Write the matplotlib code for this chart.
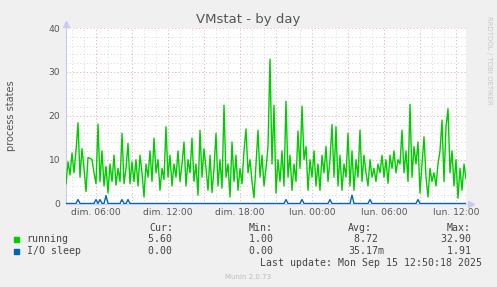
import numpy as np
import matplotlib
matplotlib.use('Agg')
import matplotlib.pyplot as plt

# hours since Sunday 00:00, one sample every 10 minutes, last one at Mon 12:50
t_end = 36 + 50 / 60
step_h = 1 / 6

running = [
    4.5, 9.5, 6.5, 11.5, 7, 12, 18.4, 6, 12.5, 8,
    2.7, 10.5, 10.3, 10, 7, 4.5, 18.1, 5, 12, 4,
    8.5, 2.4, 9, 5, 11, 4.2, 8, 5, 16, 4.5,
    8, 13.7, 4.5, 9.5, 5, 10, 4, 11, 7, 1.5,
    9, 6, 12, 5, 14.9, 7, 10, 3, 8, 5.5,
    17.5, 6, 11, 4, 9, 6, 12, 5, 9, 14,
    4, 10, 7, 14.9, 5, 9, 1.9, 16.7, 6, 12.5,
    8, 3, 11, 2.5, 8, 16, 4, 10, 3.5, 22.4,
    6, 9, 1.5, 14, 5, 11, 3, 8, 4.5, 12,
    17, 7, 10, 5, 1.3, 9, 16.7, 6, 11, 4,
    8, 13, 32.9, 9, 22.4, 2.4, 10, 5, 12, 4,
    23.3, 6, 11, 3, 9, 5, 16.5, 8, 22.2, 10,
    13, 3, 10, 6, 12, 4, 9, 3, 11, 7,
    13, 5, 10, 18, 6, 17.5, 4, 11, 3, 9,
    6, 16, 4, 12, 3, 10, 6, 16.7, 5, 11,
    7, 4, 10, 6, 8, 5, 9, 7, 11, 6,
    10, 4.6, 11, 8, 12, 7, 10, 9, 16.7, 7,
    12, 5, 22.6, 6, 13, 9, 14, 2.4, 9, 15.2,
    6, 1.5, 8, 5, 7, 4, 9, 12, 19, 5,
    17.5, 21.6, 7, 12, 4, 10, 1.2, 8, 3, 9, 5.6,
]

# I/O sleep is zero except a few short blips
io_sample = [6, 15, 17, 20, 28, 31, 110, 118, 132, 143, 152, 176]
io_peak = [0.9, 0.9, 0.9, 1.8, 0.9, 0.9, 0.9, 0.9, 0.9, 1.91, 0.9, 0.9]

legend_rows = [
    ('running', '#00cc00', '5.60', '1.00', '8.72', '32.90'),
    ('I/O sleep', '#0066b3', '0.00', '0.00', '35.17m', '1.91'),
]

n = len(running)
hours = t_end - step_h * np.arange(n - 1, -1, -1)
io_sleep = np.zeros(n)
io_sleep[io_sample] = io_peak

W, H = 497, 287
fig = plt.figure(figsize=(W / 100, H / 100), dpi=100, facecolor='#f0f0f0')
ax = fig.add_axes([66 / W, 1 - 203.5 / H, 400 / W, 175.5 / H])
ax.set_facecolor('white')

ax.set_xlim(t_end - 400 / 12, t_end)
ax.set_ylim(0, 40)

# grid: light grey minor, pinkish major
dots = (0, (1, 2.5))
for h in np.arange(4, 37, 1):
    ax.axvline(h, color='#d8d8d8', lw=0.7, ls=dots, zorder=0)
for v in np.arange(2, 40, 2):
    ax.axhline(v, color='#d8d8d8', lw=0.7, ls=dots, zorder=0)
for h in np.arange(6, 37, 3):
    ax.axvline(h, color='#ebb4b4', lw=0.7, ls=dots, zorder=0)
for v in [10, 20, 30, 40]:
    ax.axhline(v, color='#ebb4b4', lw=0.7, ls=dots, zorder=0)

ax.plot(hours, running, color='#00cc00', lw=1.0, zorder=3)
ax.plot(hours, io_sleep, color='#0066b3', lw=1.0, zorder=4)

xt = np.arange(6, 37, 6)
ax.set_xticks(xt)
ax.set_xticklabels([('dim. ' if h < 24 else 'lun. ') + '%02d:00' % (h % 24) for h in xt])
ax.set_yticks([0, 10, 20, 30, 40])
ax.tick_params(length=0, labelsize=6.6, colors='#555555')
ax.tick_params(axis='x', pad=3)
ax.tick_params(axis='y', pad=4)

for s in ['top', 'right']:
    ax.spines[s].set_visible(False)
ax.spines['left'].set_color('#c8ccf4')
ax.spines['bottom'].set_color('#c8ccf4')
ax.plot([0], [1.02], marker='^', color='#c8ccf4', ms=4, transform=ax.transAxes, clip_on=False)
ax.plot([1.012], [0], marker='>', color='#c8ccf4', ms=4, transform=ax.transAxes, clip_on=False)

fig.text(0.5, 1 - 19.5 / H, 'VMstat - by day', ha='center', va='center', fontsize=9.5, color='#555555')
fig.text(11 / W, 1 - 116 / H, 'process states', rotation=90, ha='center', va='center',
         fontsize=7, color='#555555')
fig.text(489 / W, 1 - 16 / H, 'RRDTOOL / TOBI OETIKER', rotation=270, ha='center', va='top',
         fontsize=5, color='#c8c8c8')

mono = dict(family='DejaVu Sans Mono', fontsize=7.1, color='#444444', va='center')
cols = [149, 249, 348, 447]
for x, lab in zip(cols, ['Cur:', 'Min:', 'Avg:', 'Max:']):
    fig.text(x / W, 1 - 228.3 / H, lab, **mono)

col_right = [178.5, 279, 384, 477]
for k, (name, col, cur, mn, avg, mx) in enumerate(legend_rows):
    y = 239.5 + 11.5 * k
    fig.patches.append(plt.Rectangle((14 / W, 1 - (y + 2.5) / H), 5 / W, 5 / H,
                                     transform=fig.transFigure, color=col))
    fig.text(26.7 / W, 1 - y / H, name, **mono)
    for xr, val in zip(col_right, [cur, mn, avg, mx]):
        s = val if val.endswith('m') else val + ' '
        fig.text(xr / W, 1 - y / H, s, ha='right', **mono)

fig.text(482 / W, 1 - 263.3 / H, 'Last update: Mon Sep 15 12:50:18 2025', ha='right', **mono)
fig.text(248 / W, 1 - 276.7 / H, 'Munin 2.0.73', ha='center', va='center', fontsize=5, color='#bbbbbb')

fig.savefig('out.png', dpi=100, facecolor=fig.get_facecolor())
